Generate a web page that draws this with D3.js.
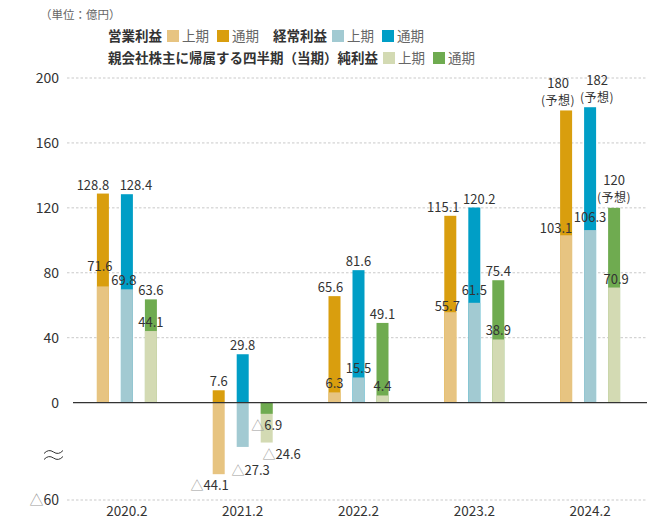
<!DOCTYPE html>
<html>
<head>
<meta charset="utf-8">
<script src="https://cdn.jsdelivr.net/npm/d3@7"></script>
<style>
  body { margin: 0; background: #fff; }
  svg { display: block; font-family: "Noto Sans CJK JP", "Noto Sans", sans-serif; }
</style>
</head>
<body>
<svg id="chart" width="647" height="520"></svg>
<script>
// values (億円), △ = negative
const years = ['2020.2', '2021.2', '2022.2', '2023.2', '2024.2'];
const opH1 = [71.6, -44.1, 6.3, 55.7, 103.1];
const opFull = [128.8, 7.6, 65.6, 115.1, 180];
const ordH1 = [69.8, -27.3, 15.5, 61.5, 106.3];
const ordFull = [128.4, 29.8, 81.6, 120.2, 182];
const netH1 = [44.1, -24.6, 4.4, 38.9, 70.9];
const netFull = [63.6, -6.9, 49.1, 75.4, 120];
const forecast = [false, false, false, false, true];
const yTicks = [200, 160, 120, 80, 40, 0, -60];

const seriesKeys = ['op', 'ord', 'net'];
const seriesNames = ['営業利益', '経常利益', '親会社株主に帰属する四半期（当期）純利益'];
const lightColors = ['#e7c481', '#a2cad2', '#d3dab3'];
const darkColors = ['#d99e0e', '#009ec6', '#6fab50'];

// hand nudges so labels don't collide (dx, dy)
const labelShift = {
  '2020.2|op|full': [-10, 0], '2020.2|ord|full': [9, 0],
  '2020.2|op|h1': [-3, -11], '2020.2|ord|h1': [-3, 0],
  '2021.2|op|h1': [-9, 0], '2021.2|ord|h1': [8, 12], '2021.2|net|h1': [15, 0],
  '2022.2|op|full': [-4, 0],
  '2023.2|op|full': [-7, 0], '2023.2|ord|full': [5, 0],
  '2023.2|op|h1': [-3, 3], '2023.2|ord|h1': [0, -4],
  '2024.2|op|full': [-8, 0], '2024.2|ord|full': [7, 0],
  '2024.2|op|h1': [-10, 2], '2024.2|ord|h1': [0, -4], '2024.2|net|h1': [2, 0]
};

d3.select(window).on('load', init);

function init() {
  const svg = d3.select('#chart');
  const h1 = [opH1, ordH1, netH1];
  const full = [opFull, ordFull, netFull];

  const x = d3.scaleBand().domain(years).range([69, 648]);
  const xs = d3.scaleBand().domain(seriesKeys).range([-36, 36])
    .paddingInner(0.5).paddingOuter(0.25);
  const y = d3.scaleLinear().domain([-60, 200]).range([500, 78]);

  // gridlines
  svg.append('g').selectAll('line')
    .data(yTicks.filter(d => d !== 0))
    .enter().append('line')
    .attr('x1', 67).attr('x2', 647)
    .attr('y1', d => y(d)).attr('y2', d => y(d))
    .attr('stroke', '#c9c9c9')
    .attr('stroke-dasharray', '2.5,2');

  // y axis
  const yAxis = svg.append('g')
    .attr('transform', 'translate(67,0)')
    .call(d3.axisLeft(y).tickValues(yTicks).tickSize(0).tickPadding(8)
      .tickFormat(d => Math.abs(d)));
  yAxis.select('.domain').remove();
  yAxis.selectAll('text')
    .attr('font-size', 14).attr('fill', '#333')
    .attr('font-family', '"Noto Sans CJK JP", "Noto Sans", sans-serif');
  yAxis.selectAll('.tick').filter(d => d < 0).select('text')
    .each(function(d) {
      const t = d3.select(this);
      t.text(null);
      t.append('tspan').attr('fill', '#999').text('△');
      t.append('tspan').text(Math.abs(d));
    });

  // x axis
  const xAxis = svg.append('g')
    .attr('transform', 'translate(0,500)')
    .call(d3.axisBottom(x).tickSize(0).tickPadding(6));
  xAxis.select('.domain').remove();
  xAxis.selectAll('text')
    .attr('font-size', 13.5).attr('fill', '#333')
    .attr('font-family', '"Noto Sans CJK JP", "Noto Sans", sans-serif');

  // bars: bigger absolute value drawn first, so the smaller one sits on top
  const bars = [];
  years.forEach((yr, i) => {
    seriesKeys.forEach((k, s) => {
      const pair = [
        { yr, k, s, kind: 'h1', v: h1[s][i], color: lightColors[s] },
        { yr, k, s, kind: 'full', v: full[s][i], color: darkColors[s] }
      ];
      pair.sort((a, b) => Math.abs(b.v) - Math.abs(a.v));
      bars.push(...pair);
    });
  });

  svg.append('g').selectAll('rect')
    .data(bars)
    .enter().append('rect')
    .attr('x', d => x(d.yr) + x.bandwidth() / 2 + xs(d.k))
    .attr('width', xs.bandwidth())
    .attr('y', d => Math.min(y(d.v), y(0)))
    .attr('height', d => Math.abs(y(d.v) - y(0)))
    .attr('fill', d => d.color);

  // zero line
  svg.append('line')
    .attr('x1', 73).attr('x2', 647)
    .attr('y1', y(0)).attr('y2', y(0))
    .attr('stroke', '#333').attr('stroke-width', 1.4);

  // value labels
  const labels = svg.append('g')
    .attr('font-size', 13).attr('fill', '#333').attr('text-anchor', 'middle');
  bars.forEach(d => {
    const i = years.indexOf(d.yr);
    const shift = labelShift[d.yr + '|' + d.k + '|' + d.kind] || [0, 0];
    const cx = x(d.yr) + x.bandwidth() / 2 + xs(d.k) + xs.bandwidth() / 2 + shift[0];
    const base = (d.v < 0 ? y(d.v) + 16 : y(d.v) - 4) + shift[1];
    if (d.kind === 'full' && forecast[i]) {
      labels.append('text').attr('x', cx).attr('y', base - 2 - 16.5).text(d.v);
      labels.append('text').attr('x', cx).attr('y', base - 1.5)
        .attr('font-size', 12).attr('letter-spacing', 0.5).text('(予想)');
      return;
    }
    const t = labels.append('text').attr('x', cx).attr('y', base);
    if (d.v < 0) {
      t.append('tspan').attr('fill', '#999').text('△');
      t.append('tspan').text(Math.abs(d.v));
    } else {
      t.text(d.v);
    }
  });

  // axis break mark
  const brk = svg.append('g').attr('fill', 'none').attr('stroke', '#333').attr('stroke-width', 1);
  [452, 458].forEach(yy => {
    brk.append('path').attr('d', `M44,${yy + 1.5} q4.5,-5 9.5,-1.5 t9.5,-1.5`);
  });

  // unit
  svg.append('text')
    .attr('x', 40).attr('y', 19)
    .attr('font-size', 11.5).attr('fill', '#666')
    .text('（単位：億円）');

  // legend
  const rows = [[0, 1], [2]];
  const rowY = [36, 58];
  rows.forEach((row, r) => {
    let cx = 108;
    const g = svg.append('g');
    row.forEach((s, j) => {
      if (j > 0) cx += 14;
      const name = g.append('text')
        .attr('x', cx).attr('y', rowY[r] + 5)
        .attr('font-size', 13.5).attr('font-weight', 'bold').attr('fill', '#333')
        .text(seriesNames[s]);
      cx += name.node().getComputedTextLength() + 5;
      [[lightColors[s], '上期'], [darkColors[s], '通期']].forEach((it, q) => {
        if (q > 0) cx += 8;
        g.append('rect')
          .attr('x', cx).attr('y', rowY[r] - 6)
          .attr('width', 12).attr('height', 12)
          .attr('fill', it[0]);
        cx += 15;
        const lab = g.append('text')
          .attr('x', cx).attr('y', rowY[r] + 5)
          .attr('font-size', 13.5).attr('fill', '#666')
          .text(it[1]);
        cx += lab.node().getComputedTextLength();
      });
    });
  });
}
</script>
</body>
</html>
